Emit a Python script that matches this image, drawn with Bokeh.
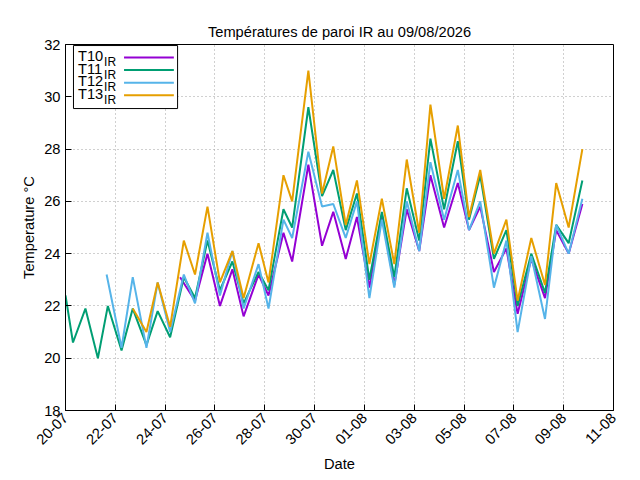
import math
from bokeh.plotting import figure
from bokeh.models import FixedTicker, Range1d, Label
from bokeh.embed import file_html
from bokeh.resources import INLINE

# days since 20-07
t11_days = [0, 0.3, 0.8, 1.3, 1.7, 2.25, 2.7, 3.25, 3.7, 4.2, 4.75, 5.2, 5.7, 6.2, 6.7,
            7.15, 7.75, 8.15, 8.75, 9.1, 9.75, 10.3, 10.75, 11.25, 11.7, 12.2, 12.7, 13.2,
            13.7, 14.2, 14.65, 15.2, 15.75, 16.2, 16.65, 17.2, 17.7, 18.15, 18.7, 19.25,
            19.7, 20.2, 20.75]
t11 = [22.4, 20.6, 21.9, 20.0, 22.0, 20.3, 21.9, 20.5, 21.8, 20.8, 23.1, 22.3, 24.5, 22.6,
       23.7, 22.1, 23.3, 22.6, 25.7, 25.0, 29.6, 26.2, 27.2, 24.9, 26.3, 23.0, 25.6, 23.1,
       26.5, 24.5, 28.4, 25.7, 28.3, 25.3, 27.0, 23.8, 24.9, 22.0, 24.0, 22.5, 25.1, 24.4, 26.8]

t12_days = [1.65, 2.25, 2.7, 3.25, 3.7, 4.2, 4.75, 5.2, 5.7, 6.2, 6.7, 7.15, 7.75, 8.15,
            8.75, 9.1, 9.75, 10.3, 10.75, 11.25, 11.7, 12.2, 12.7, 13.2, 13.7, 14.2, 14.65,
            15.2, 15.75, 16.2, 16.65, 17.2, 17.7, 18.15, 18.7, 19.25, 19.7, 20.2, 20.75]
t12 = [23.2, 20.4, 23.1, 20.4, 22.9, 21.0, 23.2, 22.1, 24.8, 22.4, 24.1, 21.9, 23.6, 21.9,
       25.3, 24.6, 27.9, 25.8, 25.9, 24.6, 26.0, 22.3, 25.3, 22.7, 26.0, 24.1, 27.5, 25.3,
       27.2, 24.9, 26.0, 22.7, 24.5, 21.0, 23.9, 21.5, 25.1, 24.0, 26.1]

t13_days = [2.7, 3.25, 3.7, 4.2, 4.75, 5.2, 5.7, 6.2, 6.7, 7.15, 7.75, 8.15, 8.75, 9.1,
            9.75, 10.3, 10.75, 11.25, 11.7, 12.2, 12.7, 13.2, 13.7, 14.2, 14.65, 15.2,
            15.75, 16.2, 16.65, 17.2, 17.7, 18.15, 18.7, 19.25, 19.7, 20.2, 20.75]
t13 = [21.9, 21.0, 22.9, 21.2, 24.5, 23.2, 25.8, 22.9, 24.1, 22.3, 24.4, 22.9, 27.0, 26.0,
       31.0, 26.3, 28.1, 25.1, 26.8, 23.6, 26.1, 23.6, 27.6, 24.8, 29.7, 26.1, 28.9, 25.4,
       27.2, 24.0, 25.3, 22.2, 24.6, 22.8, 26.7, 25.0, 28.0]

t10_days = [4.6, 5.2, 5.7, 6.2, 6.7, 7.15, 7.75, 8.15, 8.75, 9.1, 9.75, 10.3, 10.75, 11.25,
            11.7, 12.2, 12.7, 13.2, 13.7, 14.2, 14.65, 15.2, 15.75, 16.2, 16.65, 17.2, 17.7,
            18.15, 18.7, 19.25, 19.7, 20.2, 20.75]
t10 = [23.1, 22.2, 24.0, 22.0, 23.4, 21.6, 23.2, 22.4, 24.8, 23.7, 27.4, 24.3, 25.6, 23.8,
       25.4, 22.7, 25.5, 22.8, 25.7, 24.1, 27.0, 25.0, 26.7, 24.9, 25.8, 23.3, 24.2, 21.7,
       23.8, 22.3, 24.9, 24.0, 25.9]

tick_days = [0, 2, 4, 6, 8, 10, 12, 14, 16, 18, 20, 22]
tick_labels = ["20-07", "22-07", "24-07", "26-07", "28-07", "30-07", "01-08", "03-08",
               "05-08", "07-08", "09-08", "11-08"]

FONT = "Liberation Sans"

p = figure(frame_width=548, frame_height=366, output_backend="svg", toolbar_location=None,
           title="Températures de paroi IR au 09/08/2026",
           x_range=Range1d(0, 22), y_range=Range1d(18, 32),
           min_border_left=65, min_border_right=11, min_border_top=44, min_border_bottom=20)
p.title.align = "center"
p.title.text_font = FONT
p.title.text_font_style = "normal"
p.title.text_font_size = "11pt"
p.title.text_color = "black"
p.outline_line_color = "black"
p.background_fill_color = "white"

p.xaxis.ticker = FixedTicker(ticks=tick_days)
p.xaxis.major_label_overrides = {d: l for d, l in zip(tick_days, tick_labels)}
p.xaxis.major_label_orientation = math.pi / 4
p.yaxis.ticker = FixedTicker(ticks=list(range(18, 33, 2)))
p.xaxis.axis_label = "Date"
p.yaxis.axis_label = "Temperature °C"
for ax in (p.xaxis, p.yaxis):
    ax.major_tick_in = 6
    ax.major_tick_out = 0
    ax.minor_tick_line_color = None
    ax.axis_line_color = "black"
    ax.major_tick_line_color = "black"
    ax.major_label_text_font = FONT
    ax.major_label_text_font_size = "11pt"
    ax.major_label_text_color = "black"
    ax.axis_label_text_font = FONT
    ax.axis_label_text_font_size = "11pt"
    ax.axis_label_text_font_style = "normal"
    ax.axis_label_text_color = "black"
    ax.axis_label_standoff = 4
p.grid.grid_line_color = "#a0a0a0"
p.grid.grid_line_dash = "1 3"

series = [("T10", t10_days, t10, "#9400d3"),
          ("T11", t11_days, t11, "#009e73"),
          ("T12", t12_days, t12, "#56b4e9"),
          ("T13", t13_days, t13, "#e69f00")]

for name, d, v, c in series:
    p.line(d, v, line_color=c, line_width=2)

# manual legend with subscripts
p.quad(left=[0.32], right=[4.5], bottom=[29.55], top=[31.96],
       fill_color="white", line_color="black", line_width=1)
for i, (name, d, v, c) in enumerate(series):
    yy = 31.5 - 0.48 * i
    p.segment(x0=[2.35], x1=[4.35], y0=[yy], y1=[yy], line_color=c, line_width=2)
    p.add_layout(Label(x=0.5, y=yy + 0.05, text=name, text_font=FONT, text_font_size="11pt",
                       text_baseline="middle", text_color="black"))
    p.add_layout(Label(x=1.55, y=yy - 0.17, text="IR", text_font=FONT, text_font_size="9pt",
                       text_baseline="middle", text_color="black"))

open("out.html", "w").write(file_html(p, INLINE))
